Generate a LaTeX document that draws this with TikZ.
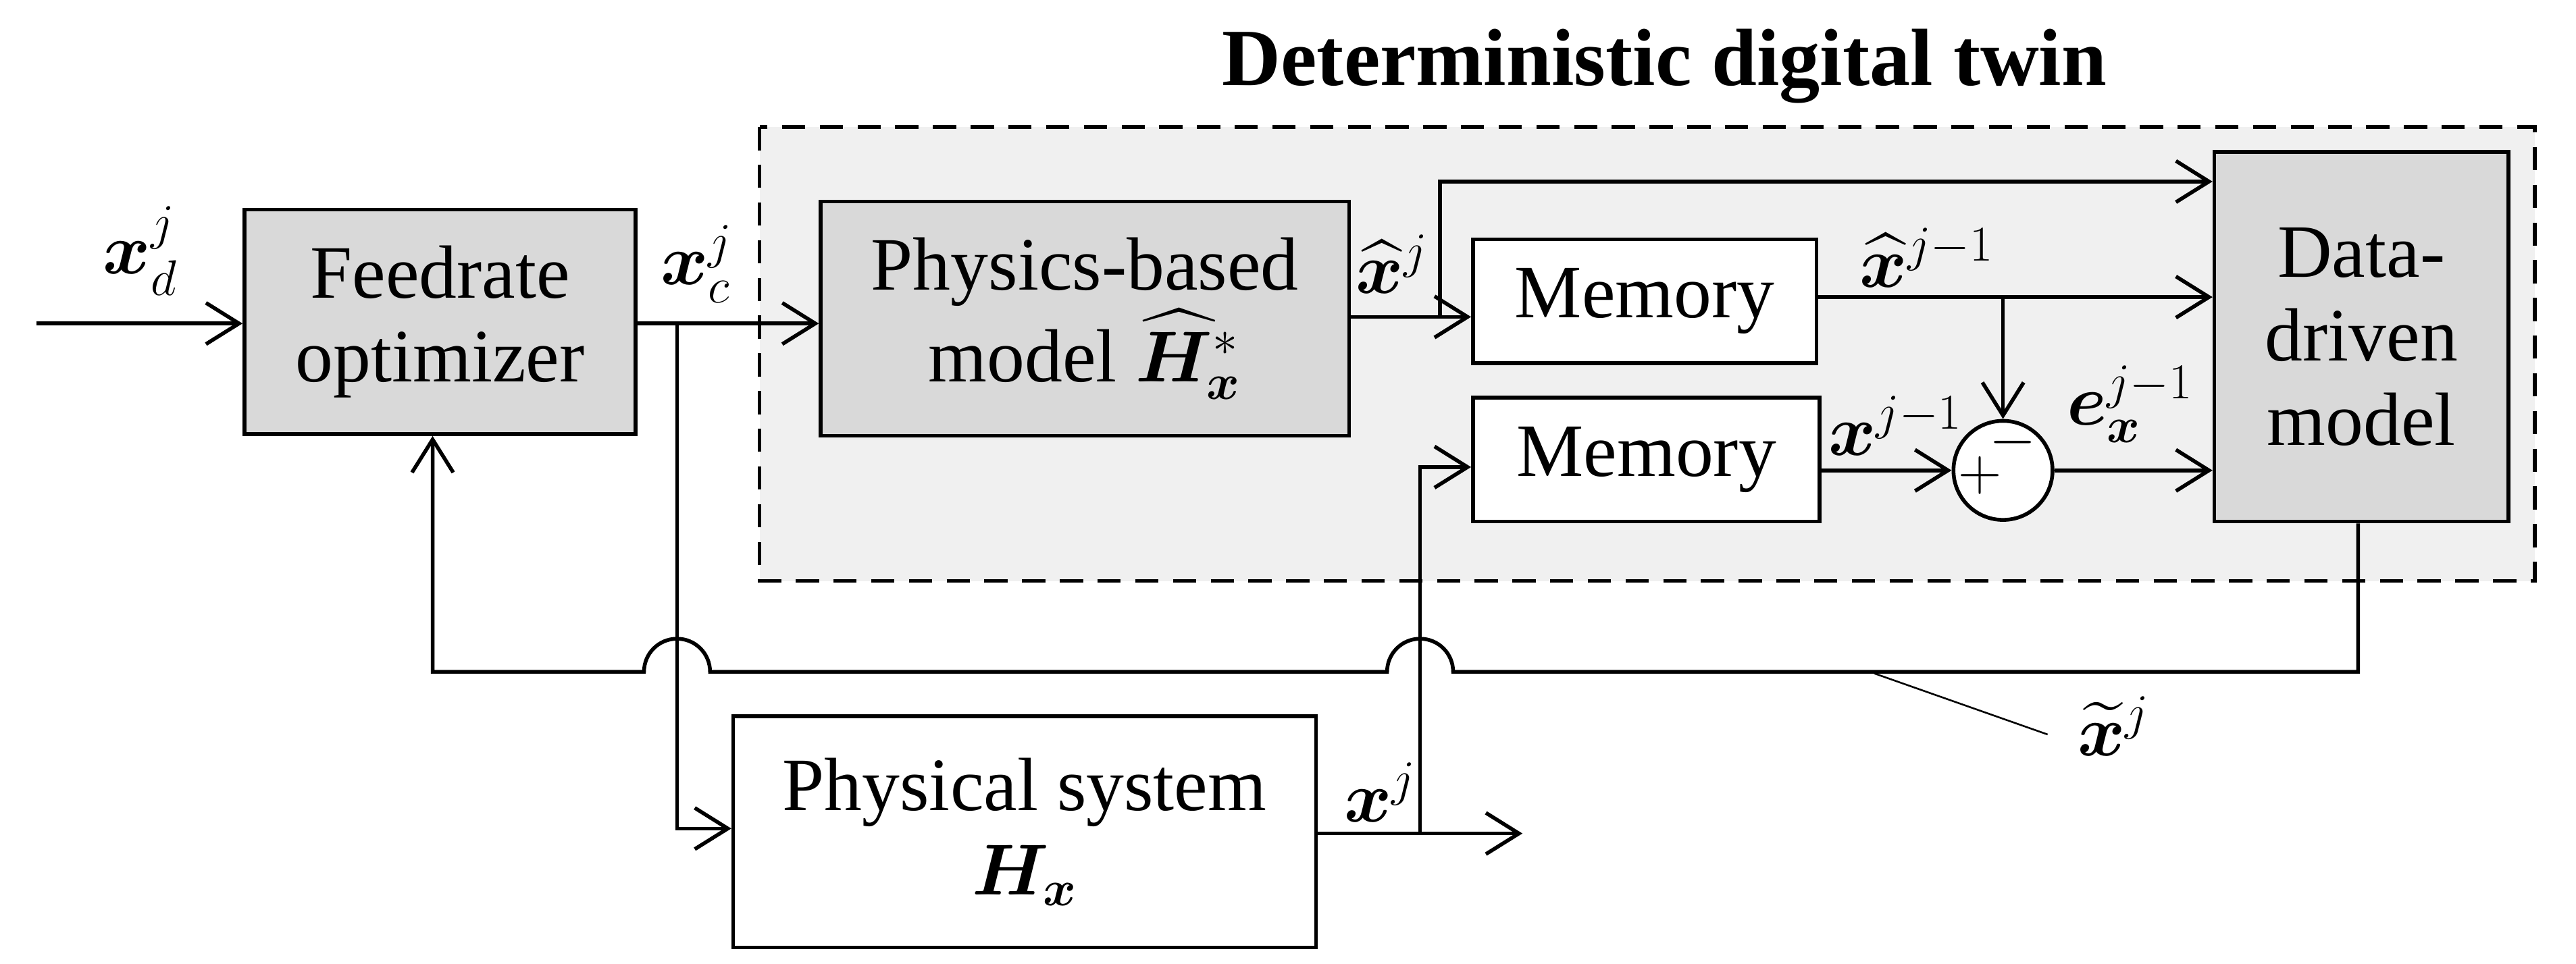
\documentclass[tikz,border=0pt]{standalone}
\usepackage{fontspec}
\setmainfont{Liberation Serif}
\usepackage{amsmath,bm}
\usetikzlibrary{arrows.meta}
\begin{document}
\begin{tikzpicture}[x=0.02cm,y=-0.02cm,line width=1.3pt,
  every node/.style={font=\fontsize{26}{29}\selectfont},
  box/.style={draw,line width=1.3pt,align=center,inner sep=0pt},
  gbox/.style={box,fill=black!15},
  wbox/.style={box,fill=white},
  arr/.style={-{Straight Barb[length=4mm,width=5mm]}}]
\useasboundingbox (0,0) rectangle (1560,584);
\node[font=\fontsize{28}{30}\selectfont\bfseries] (title) at (1008,40) {Deterministic digital twin};
\draw[dash pattern=on 8pt off 5pt,fill=black!6,line width=1.3pt] (460,77) rectangle (1535,352);
\node[gbox,minimum width=4.74cm,minimum height=2.72cm] (fo) at (266.5,195) {Feedrate\\optimizer};
\node[gbox,minimum width=6.4cm,minimum height=2.84cm] (pb) at (657,193) {Physics-based\\model $\widehat{\bm H}^{*}_{\bm x}$};
\node[wbox,minimum width=4.16cm,minimum height=1.5cm] (m1) at (996,182.5) {Memory};
\node[wbox,minimum width=4.2cm,minimum height=1.5cm] (m2) at (997,278.5) {Memory};
\node[gbox,minimum width=3.56cm,minimum height=4.48cm] (dd) at (1430,204) {Data-\\driven\\model};
\node[wbox,minimum width=7.06cm,minimum height=2.8cm] (ps) at (620.5,504) {Physical system\\$\bm H_{\bm x}$};
\node[draw,circle,fill=white,minimum size=1.2cm,inner sep=0pt,line width=1.3pt] (sum) at (1213,285) {};
\node[font=\fontsize{22}{24}\selectfont] (plus) at (1199,288) {$+$};
\node[font=\fontsize{22}{24}\selectfont] (minus) at (1219,268) {$-$};
% labels
\node (lxd) at (85,152) {$\bm x_{d}^{j}$};
\node (lxc) at (422,160) {$\bm x_{c}^{j}$};
\node (lxh) at (843,160) {$\widehat{\bm x}^{j}$};
\node (lxh1) at (1167,156) {$\widehat{\bm x}^{j-1}$};
\node (lx1) at (1148,258) {$\bm x^{j-1}$};
\node (le) at (1290,245) {$\bm e_{\bm x}^{j-1}$};
\node (lxj) at (836,480) {$\bm x^{j}$};
\node (lxt) at (1280,440) {$\widetilde{\bm x}^{j}$};
% coordinates
\coordinate (in) at (22,196);
\coordinate (b1) at (410,196);
\coordinate (b2) at (872,192);
\coordinate (b3) at (1213,180);
\coordinate (b4) at (860,505);
\coordinate (out) at (922,505);
\coordinate (fb) at (1428,407);
\coordinate (fbl) at (262,407);
% connectors
\draw[arr] (in) -- (fo.west |- in);
\draw[arr] (fo.east |- b1) -- (pb.west |- b1);
\draw[arr] (b1) -- (410,502) -- (ps.west |- 0,502);
\draw[arr] (pb.east |- b2) -- (m1.west |- b2);
\draw[arr] (b2) -- (872,110) -- (dd.west |- 0,110);
\draw[arr] (m1.east |- b3) -- (dd.west |- b3);
\draw[arr] (b3) -- (sum.north);
\draw[arr] (m2.east |- sum) -- (sum.west);
\draw[arr] (sum.east) -- (dd.west |- sum);
\draw[arr] (ps.east |- out) -- (out);
\draw[arr] (b4) -- (860,283) -- (m2.west |- 0,283);
\draw[arr] (dd.south -| fb) -- (fb) -- (880,407) arc (0:-180:20) -- (430,407) arc (0:-180:20) -- (fbl) -- (fo.south -| fbl);
\draw[line width=0.6pt] (1240,445) -- (1135,408);
\end{tikzpicture}
\end{document}
